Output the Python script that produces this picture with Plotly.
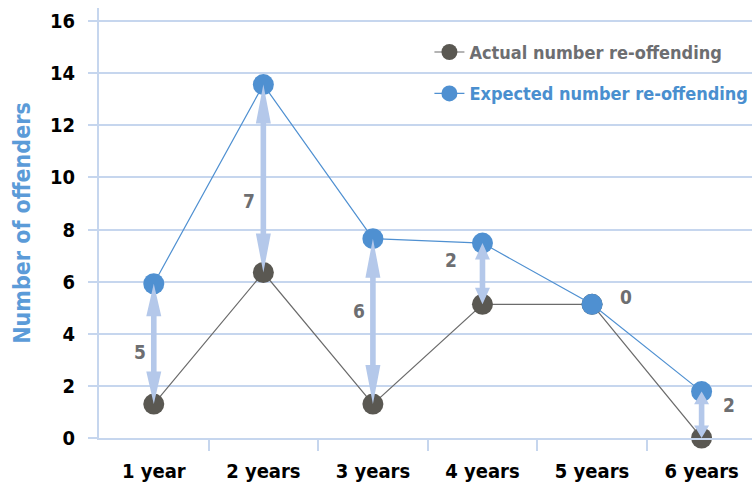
import plotly.graph_objects as go

# ---- data ----
categories = ["1 year", "2 years", "3 years", "4 years", "5 years", "6 years"]
actual = [1.3, 6.35, 1.3, 5.13, 5.13, 0.0]
expected = [5.92, 13.56, 7.65, 7.48, 5.13, 1.78]
y_ticks = [0, 2, 4, 6, 8, 10, 12, 14, 16]

# ---- style ----
GRID = "#c6d6ee"
ARROW = "#b4c8ea"
BLUE = "#4f90d1"
DARK = "#5a5852"
GRAYTXT = "#6d6e71"
FONT = "DejaVu Sans Condensed, Liberation Sans Narrow, sans-serif"

W, H = 752, 484
ML, MR, MT, MB = 99, 0, 8, 46
XR = [-0.5, 5.46]
YR = [0, 16.5]
px_x = (W - ML - MR) / (XR[1] - XR[0])
px_y = (H - MT - MB) / (YR[1] - YR[0])

# label offsets (px) for difference labels: (xshift, yshift)
label_offsets = [(-14, -8), (-14, -22), (-14, 10), (-31, 14), (34, 7), (27, 10)]

xs = list(range(len(categories)))

fig = go.Figure()

fig.add_trace(go.Scatter(
    x=xs, y=actual, mode="lines+markers",
    name="<b>Actual number re-offending</b>",
    line=dict(color="#6b6b6b", width=1.2),
    marker=dict(color=DARK, size=21),
    cliponaxis=False, legendgroup="a", hoverinfo="skip"))

fig.add_trace(go.Scatter(
    x=xs, y=expected, mode="lines+markers",
    name="<b><span style='color:%s'>Expected number re-offending</span></b>" % "#4a8fcf",
    line=dict(color=BLUE, width=1.2),
    marker=dict(color=BLUE, size=21),
    cliponaxis=False, legendgroup="b", hoverinfo="skip"))

# double-headed arrows between actual and expected
sw = 2.8 / px_x      # shaft half width (x units)
hw = 7.5 / px_x      # head half width
for i, (a, e) in enumerate(zip(actual, expected)):
    lo, hi = min(a, e), max(a, e)
    length = hi - lo
    if length < 0.05:
        continue
    hl = min(39 / px_y, 0.27 * length)
    px_ = [i, i + hw, i + sw, i + sw, i + hw, i, i - hw, i - sw, i - sw, i - hw, i]
    py_ = [hi, hi - hl, hi - hl, lo + hl, lo + hl, lo, lo + hl, lo + hl, hi - hl, hi - hl, hi]
    fig.add_trace(go.Scatter(
        x=px_, y=py_, mode="lines", fill="toself", fillcolor=ARROW,
        line=dict(width=0, color=ARROW), showlegend=False, hoverinfo="skip"))

for i, (a, e) in enumerate(zip(actual, expected)):
    d = round(e - a)
    xsft, ysft = label_offsets[i]
    fig.add_annotation(
        x=i, y=(a + e) / 2, text="<b>%d</b>" % d, showarrow=False,
        xshift=xsft, yshift=ysft,
        font=dict(family=FONT, size=19, color=GRAYTXT))

fig.update_layout(
    width=W, height=H,
    margin=dict(l=ML, r=MR, t=MT, b=MB, autoexpand=False),
    paper_bgcolor="white", plot_bgcolor="white",
    font=dict(family=FONT, color="black"),
    showlegend=True,
    legend=dict(
        x=0.506, y=0.94, xanchor="left", yanchor="top",
        bgcolor="rgba(0,0,0,0)", tracegroupgap=15,
        font=dict(family=FONT, size=18, color=GRAYTXT)),
)

fig.update_xaxes(
    range=XR, tickmode="array", tickvals=xs, ticktext=["<b>%s</b>" % c for c in categories],
    ticks="", showgrid=False, zeroline=False, automargin=False,
    showline=True, linecolor=GRID, linewidth=2,
    tickfont=dict(family=FONT, size=20, color="black"),
    ticklabelstandoff=14,
    minor=dict(tickmode="array", tickvals=[x + 0.5 for x in xs[:-1]],
               ticks="outside", ticklen=11, tickwidth=2, tickcolor=GRID, showgrid=False),
)

fig.update_yaxes(
    range=YR, tickmode="array", tickvals=y_ticks, ticktext=["<b>%d</b>" % v for v in y_ticks],
    showgrid=True, gridcolor=GRID, gridwidth=2, zeroline=False, automargin=False,
    showline=True, linecolor=GRID, linewidth=2,
    ticks="outside", ticklen=9, tickwidth=2, tickcolor=GRID,
    ticklabelstandoff=9,
    tickfont=dict(family=FONT, size=20, color="black"),
    title=dict(text="<b>Number of offenders</b>", standoff=13,
               font=dict(family=FONT, size=23, color="#5b9bd8")),
)

fig.write_html("out.html", config={"displayModeBar": False},
               post_script="document.body.style.margin='0px';")
